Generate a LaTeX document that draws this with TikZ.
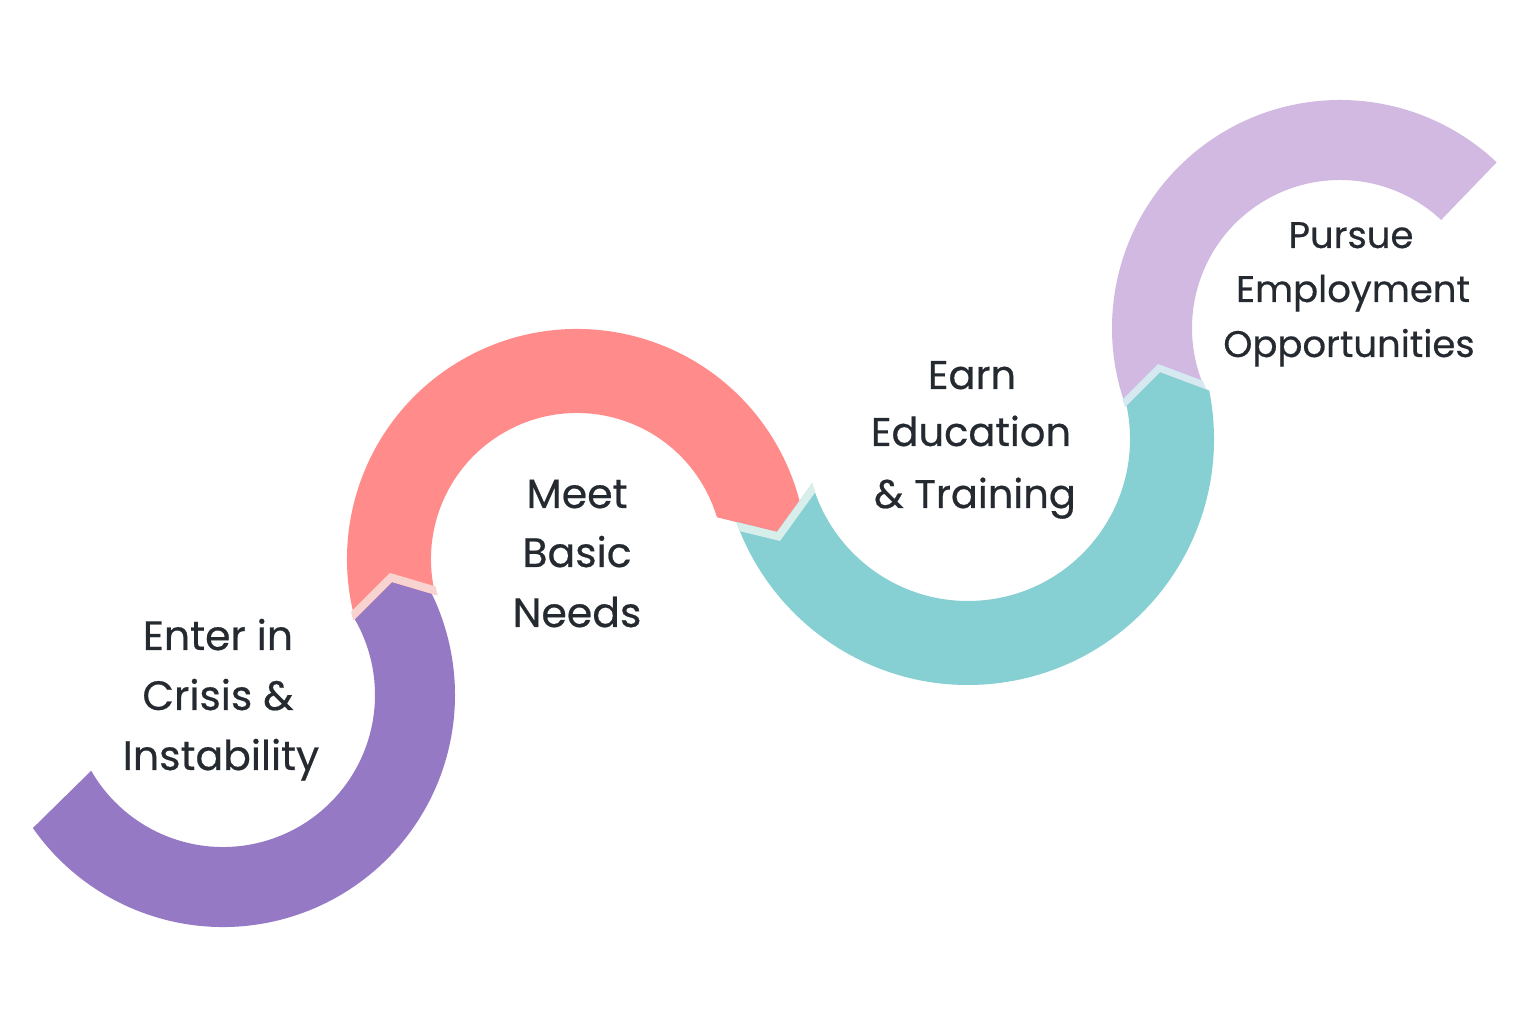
\documentclass[tikz,border=0pt]{standalone}
\usepackage{fontspec}
\setmainfont{Poppins}[Ligatures={NoCommon}, FakeBold=0.5]
\definecolor{cPurple}{HTML}{9579C5}
\definecolor{cRed}{HTML}{FF8C8B}
\definecolor{cTeal}{HTML}{86D0D3}
\definecolor{cLilac}{HTML}{D2B9E1}
\definecolor{cStripA}{HTML}{F8D3CF}
\definecolor{cStripB}{HTML}{D7EEEB}
\definecolor{cStripC}{HTML}{D4E9F0}
\definecolor{cText}{HTML}{252A31}
\tikzset{
  seg/.style={line cap=butt},
  lblA/.style={anchor=base, text=cText, font=\fontsize{41}{50}\selectfont, inner sep=0pt},
  lblB/.style={anchor=base, text=cText, font=\fontsize{40}{48}\selectfont, inner sep=0pt},
  lblC/.style={anchor=base, text=cText, font=\fontsize{37}{44}\selectfont, inner sep=0pt}
}
\begin{document}
\begin{tikzpicture}[x=1pt,y=1pt]
\useasboundingbox[fill=white] (0,0) rectangle (1536,1024);
\coordinate (Cp) at (223,329);
\coordinate (Cr) at (577,465);
\coordinate (Ct) at (968,585);
\coordinate (Cl) at (1340,696);

% purple segment
\begin{scope}
\clip (-20,144) -- (150,311) -- (293,343) -- (359,409) -- (392,442) -- (436,429) -- (524,403) -- (600,0) -- (-20,0) -- cycle;
\draw[seg, line width=80pt, cPurple] (Cp) ++(200:192pt) arc[start angle=200, end angle=395, radius=192pt];
\end{scope}

% red segment
\begin{scope}
\clip (250,343) -- (293,343) -- (359,409) -- (392,442) -- (436,429) -- (524,403) -- (630,528) -- (728,504) -- (777,492) -- (803,528) -- (855,600) -- (855,774) -- (250,774) -- cycle;
\draw[seg, line width=84pt, cRed] (Cr) ++(210:188pt) arc[start angle=210, end angle=0, radius=188pt];
\end{scope}

% teal segment
\begin{scope}
\clip (600,528) -- (630,528) -- (728,504) -- (777,492) -- (803,528) -- (855,600) -- (1061,553) -- (1127,619) -- (1160,652) -- (1208,634) -- (1304,598) -- (1304,224) -- (600,224) -- cycle;
\draw[seg, line width=84pt, cTeal] (Ct) ++(185:204pt) arc[start angle=185, end angle=395, radius=204pt];
\end{scope}

% lilac segment
\begin{scope}
\clip (1061,553) -- (1127,619) -- (1160,652) -- (1208,634) -- (1304,598) -- (1390,751) -- (1549,916) -- (1549,1024) -- (1000,1024) -- (1000,553) -- cycle;
\draw[seg, line width=80pt, cLilac] (Cl) ++(215:188pt) arc[start angle=215, end angle=30, radius=188pt];
\end{scope}

% joint strips
\begin{scope}
\clip (293,343) -- (359,409) -- (392,442) -- (436,429) -- (524,403) -- (522,412) -- (434,438) -- (390,451) -- (357,418) -- (291,352) -- cycle;
\draw[seg, line width=88pt, cStripA] (Cr) ++(210:188pt) arc[start angle=210, end angle=150, radius=188pt];
\end{scope}
\begin{scope}
\clip (630,528) -- (728,504) -- (777,492) -- (803,528) -- (855,600) -- (858,591) -- (806,519) -- (780,483) -- (731,495) -- (633,519) -- cycle;
\draw[seg, line width=84pt, cStripB] (Ct) ++(185:204pt) arc[start angle=185, end angle=240, radius=204pt];
\end{scope}
\begin{scope}
\clip (1061,553) -- (1127,619) -- (1160,652) -- (1208,634) -- (1304,598) -- (1302,606) -- (1206,642) -- (1158,660) -- (1125,627) -- (1059,561) -- cycle;
\draw[seg, line width=82pt, cStripC] (Cl) ++(215:188pt) arc[start angle=215, end angle=160, radius=188pt];
\end{scope}

% labels
\node[lblA] (t1a) at (218,374) {Enter in};
\node[lblA] (t1b) at (218,314) {Crisis \&};
\node[lblA] (t1c) at (221,254) {Instability};
\node[lblA] (t2a) at (577,516) {Meet};
\node[lblA] (t2b) at (577,457) {Basic};
\node[lblA] (t2c) at (577,397) {Needs};
\node[lblB] (t3a) at (972,635) {Earn};
\node[lblB] (t3b) at (971,578) {Education};
\node[lblB] (t3c) at (975,516) {\& Training};
\node[lblC] (t4a) at (1351,776) {Pursue};
\node[lblC] (t4b) at (1353,722) {Employment};
\node[lblC] (t4c) at (1349,667) {Opportunities};
\end{tikzpicture}
\end{document}
